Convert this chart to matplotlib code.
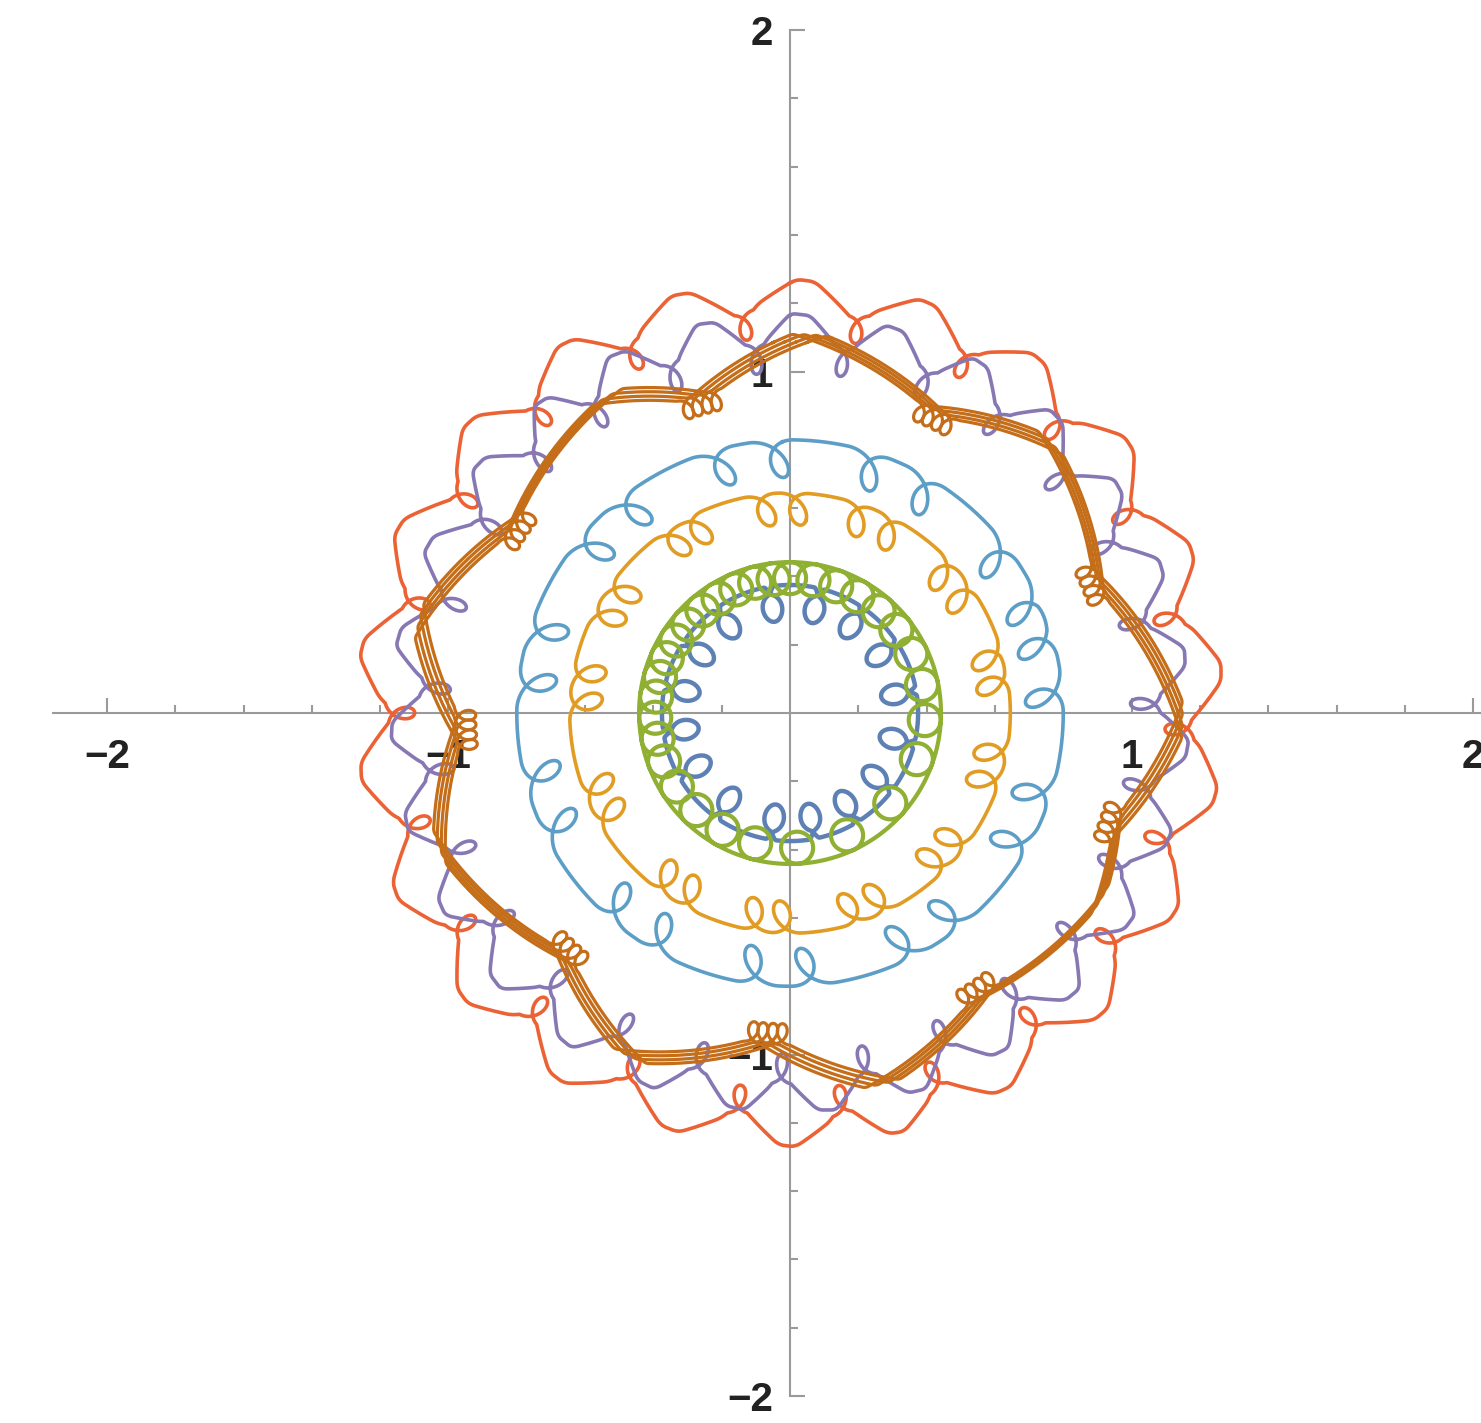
import numpy as np
import matplotlib
matplotlib.use("Agg")
import matplotlib.pyplot as plt

# ---------------- palette (Mathematica default) ----------------
COL_DARKBLUE = "#5E81B5"
COL_YELLOW = "#E19C24"
COL_GREEN = "#8FB032"
COL_RED = "#EB6235"
COL_PURPLE = "#8778B3"
COL_BROWN = "#C56E1A"
COL_LIGHTBLUE = "#5D9EC7"
AXIS_GREY = "#9a9a9a"

# ---------------- axes ----------------
major_ticks = [-2, -1, 1, 2]
major_labels = ["\u22122", "\u22121", "1", "2"]

# ---------------- curve data (angles: degrees clockwise from +y) ----------------
darkblue_radius = 0.375
darkblue_loop_angles = [-9.5, 13.3, 34.8, 57.0, 79.9, 104.0, 127.0, 148.5, 169.0,
                        188.6, 215.0, 240.0, 261.0, 282.0, 303.5, 325.0]
darkblue_loop_depth = 0.042
darkblue_loop_neck = 0.12
darkblue_neck_length = 0.02

yellow_radius = 0.645
yellow_loop_angles = [1, 18, 27.5, 46.5, 55, 73.6, 81, 100, 108, 127, 135, 154, 162,
                      181, 189, 208, 216, 240, 248, 272, 280, 297, 305, 325.3, 332.5, 352]
yellow_loop_depth = 0.047
yellow_loop_neck = 0.31

lightblue_radius = 0.80
lightblue_loop_angles = [-4, 17, 30, 52, 65, 73.5, 85, 107, 119, 141, 153, 175, 187,
                         209, 221, 243, 255, 275.4, 287.4, 309, 321.2, 343.3]
lightblue_loop_depth = 0.055
lightblue_loop_neck = 0.38

green_radius = 0.442
green_loop_radius = 0.047
green_loop_angles = [0, 10, 20, 30, 41, 52, 64, 78, 93, 110, 132, 155, 177, 195, 210, 224,
                     237, 249, 259, 268, 277, 285.5, 294, 302.5, 311, 319.5, 328, 336.5,
                     345, 353]

red_loop_angles = [-56.5, -39.8, -23.5, -6.6, 9.9, 26.4, 42.9, 59.4, 75.9, 92.4, 108.9,
                   125.4, 141.9, 158.4, 172.5, 187.5, 204, 220.5, 237, 253.5, 270, 286.5]
red_lobe_fraction = [0.0, 0.12, 0.45, 0.6, 0.97]
red_lobe_radius = [1.15, 1.2, 1.27, 1.265, 1.16]
red_loop_depth = 0.03
red_loop_neck = 0.3

purple_loop_angles = [-86, -72, -58, -44.6, -32.6, -19, -5.5, 8.5, 22, 35, 48.8, 62, 75.3,
                      88.5, 101.8, 115, 128.3, 141.5, 154.8, 168, 181.3, 194.5, 207.8,
                      221, 234.3, 247.5, 260.8]
purple_lobe_fraction = [0.0, 0.12, 0.4, 0.6, 0.95]
purple_lobe_radius = [1.04, 1.09, 1.17, 1.165, 1.07]
purple_loop_depth = 0.028
purple_loop_neck = 0.3

brown_vertex_angles = [3, 26, 44, 67, 91, 109, 121, 146, 166, 184, 205, 223, 249, 267, 284, 304, 330, 344]
brown_vertex_radii = [1.11, 0.98, 1.10, 0.98, 1.15, 1.01, 1.06, 1.0, 1.12, 0.96, 1.11, 0.97,
                      1.10, 0.97, 1.12, 0.98, 1.07, 0.96]
brown_loop_angles = [26, 67, 109, 146, 184, 223, 267, 304, 344]
brown_strand_shift = [-2.6, -0.9, 0.9, 2.6]
brown_loop_depth = 0.026
brown_loop_neck = 0.3


def looped_curve(base_ang, base_r, loop_ang, depth, neck, rot=0.0, tilt=0.0,
                 neck_len=0.0, smooth_deg=0.0, n=40000):
    th = np.linspace(0.0, 360.0, n, endpoint=False)
    ba = np.asarray(base_ang, float) % 360
    br = np.asarray(base_r, float)
    r = np.interp(th, ba, br, period=360)
    if smooth_deg > 0:
        k = max(int(smooth_deg / 360.0 * n), 1)
        ker = np.ones(k) / k
        r = np.convolve(np.concatenate([r[-k:], r, r[:k]]), ker, mode="same")[k:-k]
    dth = np.zeros_like(th)
    v = np.zeros_like(th)
    for la in loop_ang:
        R = float(np.interp(la % 360, ba, br, period=360))
        w = np.degrees(np.pi * neck * depth / R)
        d = (th - la + 180.0) % 360.0 - 180.0
        m = np.abs(d) < w
        s = np.pi * d[m] / w
        dth[m] += -np.degrees(depth / R * np.sin(s))
        vv = depth * (1 + np.cos(s))
        if neck_len > 0:
            q = np.clip((np.pi - np.abs(s)) / 0.45, 0, 1)
            vv = vv + neck_len * q * q * (3 - 2 * q)
        v[m] += vv
        dth[m] += np.degrees(tilt * vv / R)
    rr = r - v
    a = np.radians(th + dth + rot)
    x, y = rr * np.sin(a), rr * np.cos(a)
    return np.append(x, x[0]), np.append(y, y[0])


def circle_loop_curve(R, loop_ang, rho, npts=160):
    """Circle of radius R traversed clockwise with internally tangent loops."""
    L = sorted(a % 360 for a in loop_ang)
    xs, ys = [], []
    for i, a0 in enumerate(L):
        a1 = L[(i + 1) % len(L)]
        if a1 <= a0:
            a1 += 360
        c = np.radians(a0)
        cx, cy = (R - rho) * np.sin(c), (R - rho) * np.cos(c)
        p = np.linspace(0, 2 * np.pi, npts)
        xs.append(cx + rho * np.sin(c + p))
        ys.append(cy + rho * np.cos(c + p))
        arc = np.radians(np.linspace(a0, a1, max(int((a1 - a0) * 4), 2)))
        xs.append(R * np.sin(arc))
        ys.append(R * np.cos(arc))
    return np.concatenate(xs), np.concatenate(ys)


def lobe_profile(loops, frac, rad):
    angs, rs = [], []
    L = list(loops)
    for i, a0 in enumerate(L):
        a1 = L[(i + 1) % len(L)]
        g = (a1 - a0) % 360
        for f, rr in zip(frac, rad):
            angs.append(a0 + f * g)
            rs.append(rr)
    return angs, rs


fig = plt.figure(figsize=(14.81, 14.23), dpi=100)
ax = fig.add_axes([0, 0, 1, 1])
ax.set_xlim(-2.313, 2.023)
ax.set_ylim(-2.079, 2.088)

LW = 2.6
# 1 dark blue
x, y = looped_curve([0], [darkblue_radius], darkblue_loop_angles, darkblue_loop_depth,
                    darkblue_loop_neck, neck_len=darkblue_neck_length)
ax.plot(x, y, color=COL_DARKBLUE, lw=LW + 0.6, zorder=3)
# 2 yellow
x, y = looped_curve([0], [yellow_radius], yellow_loop_angles, yellow_loop_depth, yellow_loop_neck, tilt=0.25)
ax.plot(x, y, color=COL_YELLOW, lw=LW, zorder=3)
# 3 green
x, y = circle_loop_curve(green_radius, green_loop_angles, green_loop_radius)
ax.plot(x, y, color=COL_GREEN, lw=LW + 0.4, zorder=3)
# 4 red
ra, rr_ = lobe_profile(red_loop_angles, red_lobe_fraction, red_lobe_radius)
x, y = looped_curve(ra, rr_, red_loop_angles, red_loop_depth, red_loop_neck, smooth_deg=1.6)
ax.plot(x, y, color=COL_RED, lw=LW, zorder=3)
# 5 purple
pa, pr = lobe_profile(purple_loop_angles, purple_lobe_fraction, purple_lobe_radius)
x, y = looped_curve(pa, pr, purple_loop_angles, purple_loop_depth, purple_loop_neck, smooth_deg=1.4)
ax.plot(x, y, color=COL_PURPLE, lw=LW, zorder=3)
# 6 brown (several strands)
for sh in brown_strand_shift:
    x, y = looped_curve(brown_vertex_angles, brown_vertex_radii, brown_loop_angles,
                        brown_loop_depth, brown_loop_neck, rot=sh, smooth_deg=1.0)
    ax.plot(x, y, color=COL_BROWN, lw=2.3, zorder=3)
# 7 light blue
x, y = looped_curve([0], [lightblue_radius], lightblue_loop_angles, lightblue_loop_depth,
                    lightblue_loop_neck, tilt=0.3)
ax.plot(x, y, color=COL_LIGHTBLUE, lw=LW, zorder=3)

# ---------------- axes styling ----------------
for s in ["top", "right"]:
    ax.spines[s].set_visible(False)
ax.spines["left"].set_position(("data", 0))
ax.spines["bottom"].set_position(("data", 0))
ax.spines["left"].set_bounds(-2, 2)
ax.spines["bottom"].set_bounds(-2.157, 2.023)
for s in ["left", "bottom"]:
    ax.spines[s].set_color(AXIS_GREY)
    ax.spines[s].set_linewidth(1.5)
    ax.spines[s].set_zorder(1)

ax.set_xticks(major_ticks)
ax.set_xticklabels(major_labels)
ax.set_yticks(major_ticks)
ax.set_yticklabels(major_labels)
minor = [v / 5 for v in range(-10, 11) if v % 5 != 0]
ax.set_xticks(minor, minor=True)
ax.set_yticks(minor, minor=True)
ax.tick_params(which="both", direction="in", color=AXIS_GREY, width=1.5)
ax.tick_params(which="major", length=11)
ax.tick_params(which="minor", length=6)
ax.tick_params(axis="x", which="major", pad=18)
ax.tick_params(axis="y", which="major", pad=12)
for lab in ax.get_xticklabels() + ax.get_yticklabels():
    lab.set_fontfamily("Liberation Sans")
    lab.set_fontsize(29)
    lab.set_fontweight("bold")
    lab.set_color("#222222")

fig.savefig("out.png", dpi=100)
